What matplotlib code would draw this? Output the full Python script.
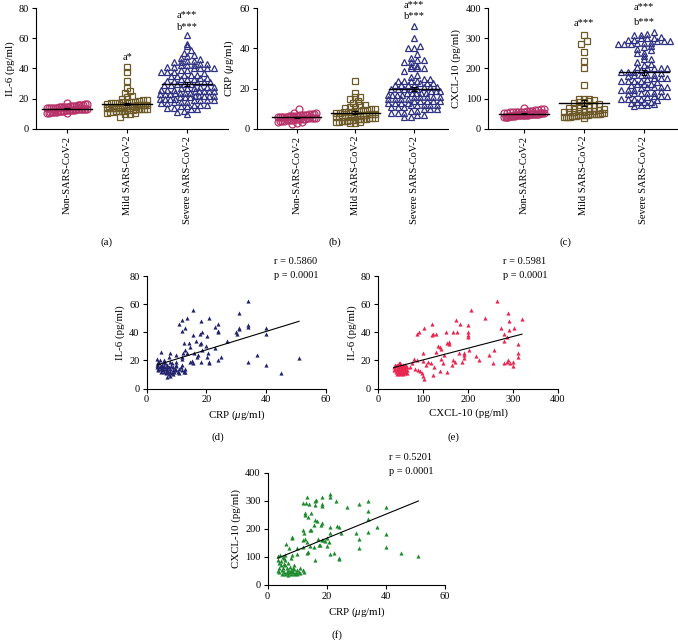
import numpy as np
import matplotlib
matplotlib.use("Agg")
import matplotlib.pyplot as plt

plt.rcParams['font.family'] = ['Liberation Serif', 'DejaVu Serif']
plt.rcParams['mathtext.fontset'] = 'custom'
plt.rcParams['mathtext.rm'] = 'Liberation Serif'
plt.rcParams['mathtext.it'] = 'Liberation Serif:italic'
plt.rcParams['font.size'] = 7.5

# ---- strip plot data (a, b, c) ----
groups = ["Non-SARS-CoV-2", "Mild SARS-CoV-2", "Severe SARS-CoV-2"]

il6_non = [10.2, 10.5, 10.8, 11, 11.2, 11.5, 11.8, 12, 12, 12.2, 12.4, 12.5, 12.7, 12.8, 13, 13,
           13.1, 13.2, 13.3, 13.5, 13.6, 13.8, 14, 14, 14.2, 14.4, 14.5, 14.7, 15, 15.2, 15.5, 15.8,
           16, 16.3, 16.8, 10.5, 11.3, 12.1, 12.9, 13.4, 14.1, 14.8, 15.6, 11.7, 12.6, 13.7, 16.1,
           10.9, 12.3, 14.3, 15.1]
il6_mild = [8, 9.5, 10, 10.5, 11, 11, 11.5, 12, 12, 12.5, 12.5, 13, 13, 13, 13.5, 13.5, 14, 14, 14,
            14.5, 14.5, 15, 15, 15, 15.5, 15.5, 16, 16, 16, 16.5, 17, 17, 17.5, 18, 18, 18.5, 19, 19,
            20, 21, 22, 24, 25, 27, 32, 38, 41, 10.2, 11.8, 12.8, 13.8, 14.8, 15.8, 16.8, 17.8, 12.2,
            13.2, 14.2, 15.2]
il6_severe = [10, 11, 12, 13, 13, 14, 15, 15, 16, 17, 17, 18, 18, 19, 19, 20, 20, 20, 21, 21, 22, 22,
              22, 23, 23, 24, 24, 24, 25, 25, 25, 26, 26, 27, 27, 28, 28, 29, 29, 30, 30, 31, 31, 32,
              32, 33, 33, 34, 35, 35, 36, 36, 37, 38, 38, 39, 39, 40, 40, 40, 41, 41, 42, 42, 43, 44,
              44, 45, 46, 47, 48, 49, 50, 52, 55, 56, 62,
              14, 16, 18, 19, 20, 21, 22, 23, 24, 25, 26, 27, 28, 30, 31, 33, 34, 36, 38, 40, 42, 43,
              45, 16, 19, 22, 25]

crp_non = [3, 3.5, 3.8, 4, 4, 4.2, 4.5, 4.5, 4.8, 5, 5, 5, 5.2, 5.5, 5.5, 5.8, 6, 6, 6, 6.2, 6.5, 6.5,
           6.8, 7, 7, 7.2, 7.5, 7.8, 8, 2.5, 4.3, 5.3, 6.3, 7.3, 3.3, 4.7, 5.7, 6.7, 10, 5.1, 6.1]
crp_mild = [3, 3, 3.5, 3.5, 4, 4, 4, 4.5, 4.5, 5, 5, 5, 5.5, 5.5, 6, 6, 6, 6.5, 6.5, 7, 7, 7, 7.5, 7.5,
            8, 8, 8.5, 8.5, 9, 9, 9.5, 10, 10, 10.5, 11, 11, 12, 12, 13, 14, 15, 16, 16, 18, 24, 3.2,
            4.2, 5.2, 6.2, 7.2, 8.2, 9.2, 4.8, 5.8, 6.8]
crp_severe = [6, 6, 7, 7, 8, 8, 9, 9, 10, 10, 11, 11, 12, 12, 12, 13, 13, 13, 14, 14, 14, 15, 15, 15,
              16, 16, 16, 17, 17, 17, 18, 18, 18, 19, 19, 20, 20, 20, 21, 21, 22, 22, 23, 23, 24, 24,
              24, 25, 25, 26, 27, 29, 30, 30, 31, 33, 33, 34, 35, 37, 40, 40, 41, 45, 51,
              8, 10, 11, 12, 13, 14, 15, 16, 17, 18, 19, 20, 21, 22, 23, 24, 12, 14, 16, 18, 20, 22,
              30, 31, 34]

cxcl_non = [38, 40, 40, 42, 42, 43, 44, 45, 45, 46, 46, 47, 47, 48, 48, 49, 49, 50, 50, 51, 52, 52, 53,
            54, 55, 56, 57, 58, 60, 62, 64, 66, 68, 41, 44, 47, 50, 53, 56, 59, 63, 39, 43, 46, 49,
            51, 54]
cxcl_mild = [35, 38, 40, 40, 42, 42, 44, 45, 45, 46, 48, 48, 50, 50, 52, 52, 55, 55, 58, 60, 60, 62, 65,
             68, 70, 72, 75, 78, 80, 82, 85, 88, 90, 92, 95, 98, 100, 100, 145, 200, 225, 255, 280,
             290, 310, 42, 46, 50, 54, 58, 40, 44, 48]
cxcl_severe = [75, 78, 80, 82, 85, 88, 90, 95, 98, 100, 100, 105, 110, 110, 115, 120, 120, 125, 130, 130,
               135, 140, 140, 145, 150, 150, 155, 160, 160, 165, 170, 170, 175, 180, 180, 185, 190, 190,
               195, 200, 200, 205, 210, 215, 220, 230, 240, 250, 260, 265, 270, 275, 280, 280, 285,
               285, 290, 290, 295, 300, 300, 305, 310, 315, 320,
               90, 100, 110, 120, 130, 140, 150, 160, 170, 180, 190, 200, 280, 290, 300, 310, 285, 295,
               120, 140, 160, 180, 200, 230, 250]

# ---- correlation data (d, e, f) ----
d_crp = [34, 15.4, 31, 11.8, 21, 13.7, 11, 18.3, 23, 23.8, 33.9, 34, 30.8, 31, 40, 40, 29.8, 30.4, 24,
         24, 18.5, 17.9, 15.6, 13, 12, 16.6, 20.3, 18.3, 19.8, 18, 27, 22.8, 12.6, 14.2, 14.6, 12.9,
         13.4, 12.3, 15.8, 17.2, 18.5, 20.7, 20.3, 21, 21, 18.3, 16.8, 15.2, 14.4, 15.6, 25, 24, 37,
         34, 40, 45, 51, 4.8, 7.8, 7.6, 3.5, 6, 10, 11.7, 11.7,
         3.5, 3.5, 3.8, 4, 4, 4.2, 4.5, 4.8, 5, 5, 5.2, 5.5, 5.5, 5.8, 6, 6, 6.2, 6.5, 6.5, 6.8, 7, 7,
         7.2, 7.5, 7.5, 7.8, 8, 8, 8.2, 8.5, 8.5, 8.8, 9, 9, 9.3, 9.5, 10, 10, 10.5, 11, 11, 11.5, 12,
         12.5, 13, 3.7, 4.5, 6, 7, 8, 10, 12, 13, 9.8, 5.3, 6.7]
d_il6 = [62, 56, 54, 49, 50, 50, 46, 48, 44, 45.7, 45, 44, 43, 42, 43, 39, 40, 39, 40.8, 40, 40, 38.6,
         38, 43, 40.8, 34, 37, 32.5, 30, 31.5, 34, 28.7, 32.7, 32.5, 29.6, 27.3, 25.4, 25, 25.6, 24,
         27.3, 25.4, 22.5, 19, 17.8, 18.5, 22.5, 19.7, 18.5, 17.8, 22.7, 20.6, 24, 19.2, 17, 11, 22,
         26.3, 25, 22.5, 21, 20.6, 23.7, 22.5, 20.8,
         17, 15, 14, 16, 13, 18, 15, 14, 16, 12, 17, 14, 13, 15, 16, 12, 18, 14, 11, 15, 13, 17, 12, 10,
         15, 9, 14, 12, 16, 11, 18, 13, 15, 10, 12, 14, 13, 16, 12, 14, 11, 15, 13, 12, 14, 19, 20, 19,
         8, 19, 19, 17, 12, 17, 15.5, 13.5]

e_cxcl = [265, 206, 320, 237, 289, 292, 200, 173, 121, 150, 183, 274, 292, 302, 279, 281, 286, 310, 91,
          87, 102, 123, 121, 128, 166, 175, 200, 200, 200, 158, 154, 158, 133, 137, 141, 128, 147, 140,
          167, 180, 190, 202, 191, 192, 217, 224, 257, 256, 246, 279, 286, 289, 294, 300, 301, 310,
          310, 99.5, 101, 110, 97, 99, 102, 123, 137, 145, 153, 164, 171, 186, 79, 86, 71.5, 82.5, 88,
          93.6, 64, 75, 106, 118, 125,
          35, 38, 40, 40, 42, 42, 44, 45, 45, 46, 47, 48, 48, 50, 50, 51, 52, 52, 53, 54, 55, 55, 56,
          57, 58, 59, 60, 60, 62, 63, 65, 36, 43, 49, 56, 61, 64, 38, 47, 53]
e_il6 = [62, 56, 49.5, 50, 54, 48, 45, 48.6, 45.7, 40, 45.7, 42.7, 41.5, 42.7, 39, 33.6, 36.7, 32, 40,
         39, 43, 39, 38, 38.6, 40, 40, 40.3, 38, 36.3, 33, 32.5, 31.5, 30.3, 29.6, 28.4, 26, 23.7,
         21.3, 20, 24.9, 25.4, 27.3, 23.7, 22, 23, 20.6, 27.3, 18.2, 23.7, 17.8, 19, 20.1, 18.2, 19,
         16, 25, 22.5, 24.9, 19.4, 19, 10.7, 8.8, 7, 9.5, 12.3, 17.8, 11.8, 16.6, 19, 19, 21.3, 20.1,
         15.4, 14.2, 13.5, 12.6, 13, 17.8, 16.6, 17.8, 15.4,
         15, 14, 16, 12, 13, 17, 15, 11, 14, 18, 13, 16, 10, 14, 12, 15, 17, 11, 13, 16, 14, 10, 12,
         15, 13, 17, 11, 14, 16, 12, 15, 13, 10, 18, 17, 13, 11, 17, 12, 14.5]

f_crp = [21.1, 21.1, 13.3, 18.3, 16.4, 15.9, 12.9, 12.1, 14, 16, 18.3, 18.3, 23.2, 27, 31, 34, 34, 40,
         12.8, 12.8, 13.8, 14.7, 16.2, 16.6, 18.3, 18.2, 21.1, 23.4, 24, 21.1, 25, 15.7, 14.2, 14.6,
         12.1, 12.3, 12.7, 12.1, 17.2, 18.3, 20.2, 18.9, 19.5, 17.3, 20.9, 29.8, 31, 34, 36.9, 34, 40,
         40, 31, 22.4, 24.2, 24.2, 21.1, 16.2, 13.5, 13.8, 14.4, 13.3, 15.7, 20, 17.8, 45.1, 51, 12.1,
         10.1, 10.1, 8.2, 8.2, 6.3, 8.3, 7.3, 5.4, 6, 4.3, 3.7,
         3.5, 3.5, 4, 4, 4.5, 5, 5, 5.5, 5.5, 6, 6, 6, 6.5, 6.5, 7, 7, 7, 7.5, 7.5, 8, 8, 8, 8.5, 8.5,
         9, 9, 9.5, 10, 10, 11, 11, 12, 12.5, 4.5, 5.5, 9, 10.5, 6.8, 7.8, 9.8, 3.8, 5.2]
f_cxcl = [322, 314, 314, 314, 302, 297, 291, 293, 288, 285, 288, 281, 300, 279, 288, 300, 264, 276,
          257, 249, 243, 255, 230, 226, 220, 213, 206, 210, 206, 185, 186, 213, 196, 195, 196, 185,
          165, 160, 162, 161, 167, 160, 156, 142, 153, 184, 164, 190, 206, 234, 181, 134, 132, 113,
          97, 92, 112, 89, 113, 118, 137, 154, 134, 140, 141, 113, 102, 134, 132, 112, 172, 166, 146,
          107, 133, 98, 108, 108, 104,
          90, 50, 45, 60, 85, 40, 55, 95, 48, 38, 70, 88, 45, 60, 42, 80, 52, 65, 45, 38, 55, 95, 48,
          62, 40, 58, 45, 38, 52, 42, 60, 55, 48, 70, 75, 72, 48, 35, 50, 44, 78, 62]

stat_texts = [("r = 0.5860", "p = 0.0001"), ("r = 0.5981", "p = 0.0001"), ("r = 0.5201", "p = 0.0001")]

W, H = 678, 640
fig = plt.figure(figsize=(W / 100, H / 100), dpi=100)


def box(l, t, r, b):
    return [l / W, 1 - b / H, (r - l) / W, (b - t) / H]


def ftext(x, y, s, **kw):
    fig.text(x / W, 1 - y / H, s, **kw)


def style(ax):
    for sp in ["top", "right"]:
        ax.spines[sp].set_visible(False)
    for sp in ["left", "bottom"]:
        ax.spines[sp].set_linewidth(0.8)
    ax.tick_params(direction="out", length=3, width=0.8, pad=2, labelsize=7.5)


def swarm(vals, center, step, dx, half):
    # rows of points sharing a value band, spread sideways around the group centre
    v = np.sort(np.asarray(vals, float))
    xs = np.zeros_like(v)
    rows = np.round(v / step)
    for r in np.unique(rows):
        idx = np.where(rows == r)[0]
        n = len(idx)
        off = (np.arange(n) - (n - 1) / 2) * dx
        if n > 1 and np.abs(off).max() > half:
            off *= half / np.abs(off).max()
        xs[idx] = center + off
    return xs, v


colors = ["#b8336a", "#6e5a28", "#2e3082"]
markers = ["o", "s", "^"]
halves = [0.33, 0.33, 0.45]
spacing = [0.085, 0.085, 0.11]

strip_panels = [
    (box(36, 8.3, 228, 128.7), (0.48, 3.68), [il6_non, il6_mild, il6_severe], 80, 20, "IL-6 (pg/ml)",
     [(2, 47.5, "a*"), (3, 75.0, "a***"), (3, 67.3, "b***")]),
    (box(257, 8.3, 448, 128.7), (0.32, 3.58), [crp_non, crp_mild, crp_severe], 60, 20, r"CRP ($\mu$g/ml)",
     [(3, 61.3, "a***"), (3, 55.8, "b***")]),
    (box(488, 8.3, 677, 128.7), (0.40, 3.55), [cxcl_non, cxcl_mild, cxcl_severe], 400, 100, "CXCL-10 (pg/ml)",
     [(2, 348, "a***"), (3, 402, "a***"), (3, 353, "b***")]),
]

for rect, xlim, data, ymax, ystep, ylab, notes in strip_panels:
    ax = fig.add_axes(rect)
    style(ax)
    step = ymax / 120.4 * 4.5
    for i, vals in enumerate(data):
        xs, ys = swarm(vals, i + 1, step, spacing[i], halves[i])
        ax.plot(xs, ys, linestyle="none", marker=markers[i], ms=5, mfc="none",
                mec=colors[i], mew=0.9, clip_on=False)
        m = np.mean(vals)
        sem = np.std(vals, ddof=1) / np.sqrt(len(vals))
        ax.plot([i + 1 - 0.42, i + 1 + 0.42], [m, m], color="black", lw=1.0)
        ax.errorbar(i + 1, m, yerr=sem, color="black", lw=0.8, capsize=2, capthick=0.8)
    ax.set_xlim(*xlim)
    ax.set_ylim(0, ymax)
    ax.set_yticks(np.arange(0, ymax + 1, ystep))
    ax.set_xticks([1, 2, 3])
    ax.set_xticklabels(groups, rotation=90)
    ax.set_ylabel(ylab, fontsize=7.8, labelpad=3)
    for gx, gy, s in notes:
        ax.text(gx, gy, s, ha="center", va="center", fontsize=7.5, clip_on=False)

ftext(106, 242, "(a)", ha="center", va="center", fontsize=7.8)
ftext(335, 242, "(b)", ha="center", va="center", fontsize=7.8)
ftext(565, 242, "(c)", ha="center", va="center", fontsize=7.8)

corr_panels = [
    (box(146.5, 276, 326, 388.5), d_crp, d_il6, "#22226e", (0, 60, 20), (0, 80, 20),
     r"CRP ($\mu$g/ml)", "IL-6 (pg/ml)", (274.5, 262), (218, 437), "(d)", stat_texts[0]),
    (box(378, 276, 558, 388.5), e_cxcl, e_il6, "#e8264f", (0, 400, 100), (0, 80, 20),
     "CXCL-10 (pg/ml)", "IL-6 (pg/ml)", (503, 262), (453, 437), "(e)", stat_texts[1]),
    (box(267.5, 472.5, 445, 585), f_crp, f_cxcl, "#1e8c2e", (0, 60, 20), (0, 400, 100),
     r"CRP ($\mu$g/ml)", "CXCL-10 (pg/ml)", (389, 457), (337, 635), "(f)", stat_texts[2]),
]

for rect, xv, yv, col, xr, yr, xlab, ylab, stpos, lpos, tag, st in corr_panels:
    ax = fig.add_axes(rect)
    style(ax)
    xv = np.array(xv)
    yv = np.array(yv)
    ax.scatter(xv, yv, marker="^", s=9, color=col, linewidths=0, clip_on=False)
    k, c0 = np.polyfit(xv, yv, 1)
    xx = np.array([xv.min(), xv.max()])
    ax.plot(xx, k * xx + c0, color="black", lw=0.8)
    ax.set_xlim(xr[0], xr[1])
    ax.set_ylim(yr[0], yr[1])
    ax.set_xticks(np.arange(xr[0], xr[1] + 1, xr[2]))
    ax.set_yticks(np.arange(yr[0], yr[1] + 1, yr[2]))
    ax.set_xlabel(xlab, fontsize=7.8, labelpad=3)
    ax.set_ylabel(ylab, fontsize=7.8, labelpad=3)
    ftext(stpos[0], stpos[1], st[0], ha="left", va="center", fontsize=7.5)
    ftext(stpos[0], stpos[1] + 14, st[1], ha="left", va="center", fontsize=7.5)
    ftext(lpos[0], lpos[1], tag, ha="center", va="center", fontsize=7.8)

fig.savefig("out.png", dpi=100)
